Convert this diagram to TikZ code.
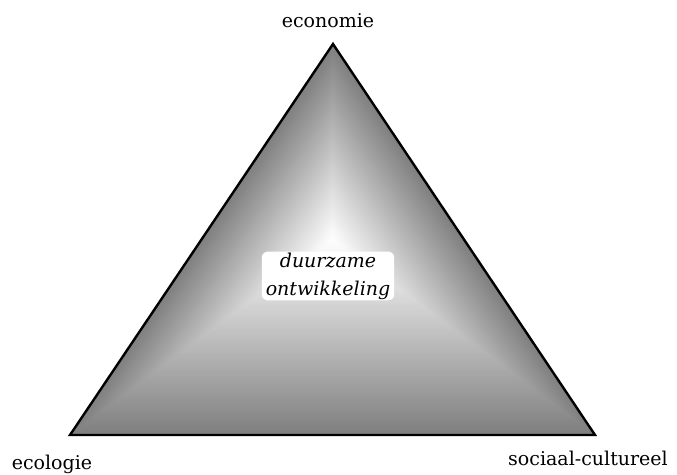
\documentclass[tikz,border=0pt]{standalone}
\usepackage{fontspec}
\setmainfont{DejaVu Serif}
\usetikzlibrary{calc}
\tikzset{
  corner/.style={font=\fontsize{19}{23}\selectfont, anchor=base, inner sep=0pt},
  centre/.style={font=\itshape\fontsize{19}{28}\selectfont, fill=white, rounded corners=6pt, align=center, inner xsep=4pt, inner ysep=1pt},
  rim/.style={draw=black, line width=2.4pt, line join=miter},
}

\begin{document}
\begin{tikzpicture}[x=1pt, y=-1pt]
\useasboundingbox (0,0) rectangle (677,474);
\coordinate (top) at (333,44);
\coordinate (ecol) at (70,435);
\coordinate (soc) at (595,435);
\coordinate (mid) at (332.5,239.5);
\foreach \i in {0,...,79}{
  \pgfmathsetmacro\s{1-\i/80}
  \pgfmathsetmacro\p{50*\s}
  \fill[black!\p] ($(mid)!\s!(top)$) -- ($(mid)!\s!(ecol)$) -- ($(mid)!\s!(soc)$) -- cycle;
}
\draw[rim] (top) -- (ecol) -- (soc) -- cycle;
\node[corner] (economie) at (328,27) {economie};
\node[corner] (ecologie) at (52,469) {ecologie};
\node[corner] (sociaal) at (588,465) {sociaal-cultureel};
\node[centre] (duurzaam) at (328,276) {duurzame\\ontwikkeling};
\end{tikzpicture}
\end{document}
